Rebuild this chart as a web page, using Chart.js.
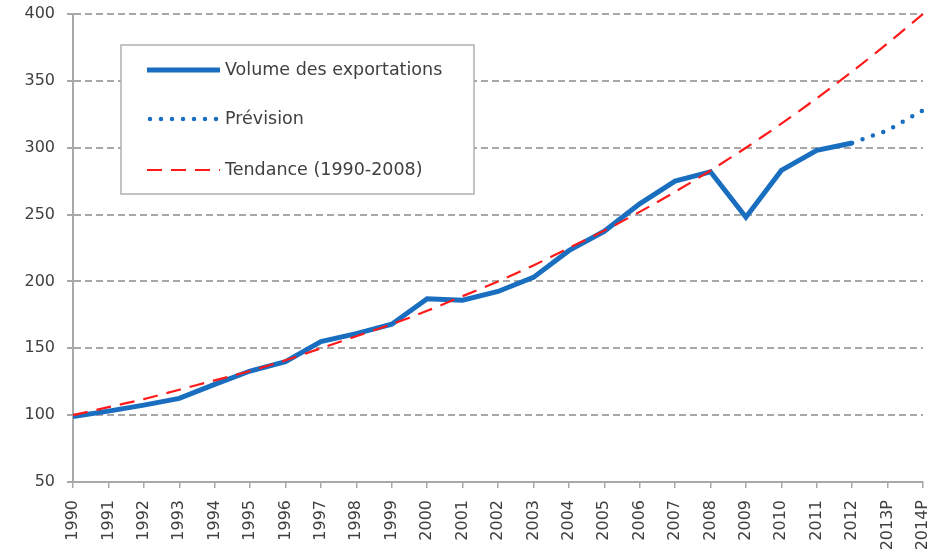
<!DOCTYPE html>
<html>
<head>
<meta charset="utf-8">
<script src="https://cdn.jsdelivr.net/npm/chart.js@4"></script>
<style>
  html, body { margin: 0; padding: 0; background: #fff; }
  #wrap { width: 931px; height: 556px; }
</style>
</head>
<body>
<div id="wrap"><canvas id="exportChart" width="931" height="556"></canvas></div>
<script>
const years = ["1990", "1991", "1992", "1993", "1994", "1995", "1996", "1997", "1998", "1999",
  "2000", "2001", "2002", "2003", "2004", "2005", "2006", "2007", "2008", "2009",
  "2010", "2011", "2012", "2013P", "2014P"];

const volume = [99, 103, 107.5, 112.5, 123, 133, 140, 155, 161, 168,
  187, 186, 192.5, 203, 223, 237.5, 258, 275, 282, 248,
  283, 298, 303.5, null, null];

const prevision = [null, null, null, null, null, null, null, null, null, null,
  null, null, null, null, null, null, null, null, null, null,
  null, null, 303.5, 313, 328];

const tendance = [100, 106, 112, 119, 126, 133, 141, 150, 159, 168,
  178, 189, 200, 212, 225, 238, 252, 267, 283, 300,
  318, 337, 357, 378, 400];

const yTicks = [50, 100, 150, 200, 250, 300, 350, 400];

const BLUE = "#1a6ec0";
const RED = "#ff1a1a";
const GRID = "#a8a8a8";
const TEXT = "#404040";

// boxed legend drawn inside the plot, like the original
const boxLegend = {
  id: "boxLegend",
  afterDraw(chart) {
    const ctx = chart.ctx;
    const x0 = 121, y0 = 45, w = 353, h = 149;
    ctx.save();
    ctx.fillStyle = "#fff";
    ctx.fillRect(x0, y0, w, h);
    ctx.strokeStyle = "#b0b0b0";
    ctx.lineWidth = 1.5;
    ctx.strokeRect(x0, y0, w, h);

    const rows = [70, 119, 170];
    chart.data.datasets.forEach(function (ds, i) {
      const y = rows[i];
      ctx.beginPath();
      ctx.strokeStyle = ds.borderColor;
      ctx.lineWidth = ds.borderWidth;
      ctx.lineCap = ds.borderCapStyle || "butt";
      ctx.setLineDash(ds.borderDash || []);
      ctx.moveTo(ds.legendStart || 147, y);
      ctx.lineTo(220, y);
      ctx.stroke();
      ctx.setLineDash([]);
      ctx.fillStyle = TEXT;
      ctx.font = "17.5px 'DejaVu Sans'";
      ctx.textBaseline = "middle";
      ctx.fillText(ds.label, 225, y);
    });
    ctx.restore();
  }
};

new Chart(document.getElementById("exportChart").getContext("2d"), {
  type: "line",
  data: {
    labels: years,
    datasets: [
      {
        label: "Volume des exportations",
        data: volume,
        borderColor: BLUE,
        borderWidth: 5,
        pointRadius: 0,
        tension: 0,
        order: 1
      },
      {
        label: "Prévision",
        data: prevision,
        borderColor: BLUE,
        borderWidth: 4.5,
        borderDash: [0, 11],
        borderCapStyle: "round",
        legendStart: 150,
        pointRadius: 0,
        tension: 0,
        order: 2
      },
      {
        label: "Tendance (1990-2008)",
        data: tendance,
        borderColor: RED,
        borderWidth: 2.2,
        borderDash: [15, 9],
        pointRadius: 0,
        tension: 0.3,
        order: 0
      }
    ]
  },
  options: {
    responsive: false,
    animation: false,
    layout: { padding: { top: 14, right: 8, left: 0, bottom: 0 } },
    plugins: {
      legend: { display: false },
      tooltip: { enabled: false }
    },
    scales: {
      x: {
        offset: false,
        grid: {
          display: true,
          drawOnChartArea: false,
          drawTicks: true,
          tickLength: 6,
          color: GRID,
          lineWidth: 1.5
        },
        border: { display: true, color: GRID, width: 2 },
        ticks: {
          autoSkip: false,
          minRotation: 90,
          maxRotation: 90,
          padding: 12,
          color: TEXT,
          font: { family: "'DejaVu Sans'", size: 16 }
        },
        afterFit(scale) {
          scale.height = 74;
          scale.paddingLeft = 0;
          scale.paddingRight = 0;
        }
      },
      y: {
        min: 50,
        max: 400,
        afterBuildTicks(scale) {
          scale.ticks = yTicks.map(function (v) { return { value: v }; });
        },
        grid: {
          color: function (c) { return c.tick && c.tick.value === 50 ? "rgba(0,0,0,0)" : GRID; },
          lineWidth: 2,
          tickLength: 6,
          tickColor: GRID
        },
        border: { display: true, color: GRID, width: 2, dash: [7, 4] },
        ticks: {
          padding: 12,
          color: TEXT,
          font: { family: "'DejaVu Sans'", size: 16 }
        },
        afterFit(scale) {
          scale.width = 73;
          scale.paddingTop = 0;
          scale.paddingBottom = 0;
        }
      }
    }
  },
  plugins: [boxLegend]
});
</script>
</body>
</html>
